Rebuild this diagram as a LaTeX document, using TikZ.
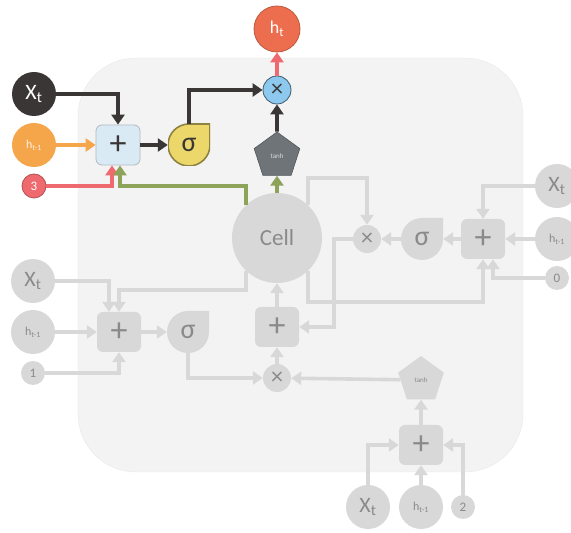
\documentclass[tikz,border=0pt]{standalone}
\usepackage{fontspec}
\setmainfont{Carlito}
\usepackage{xcolor}
\usepackage{tikz}
\usetikzlibrary{positioning,arrows.meta,shapes.geometric}
\definecolor{panel}{RGB}{243,243,243}
\definecolor{paneledge}{RGB}{232,232,232}
\definecolor{offgray}{RGB}{216,216,216}
\definecolor{offtext}{RGB}{138,138,138}
\definecolor{inkdark}{RGB}{58,54,53}
\definecolor{outred}{RGB}{236,110,78}
\definecolor{pinkred}{RGB}{238,106,110}
\definecolor{hprevorange}{RGB}{245,165,74}
\definecolor{mulblue}{RGB}{141,200,238}
\definecolor{addblue}{RGB}{218,234,244}
\definecolor{sigyellow}{RGB}{236,216,106}
\definecolor{tanhgray}{RGB}{110,116,120}
\definecolor{cellgreen}{RGB}{142,163,90}
\newcommand{\xtlabel}{\fontsize{22}{22}\selectfont X\textsubscript{t}}
\newcommand{\hlabel}{\fontsize{12}{12}\selectfont h\textsubscript{t-1}}

\begin{document}
\begin{tikzpicture}[x=1pt, y=1pt,
        inode/.style={circle, inner sep=0pt, minimum size=44pt, fill=offgray, text=offtext},
        knode/.style={circle, inner sep=0pt, minimum size=24pt, fill=offgray, text=offtext,
                      font=\fontsize{13}{13}\selectfont},
        addbox/.style={rectangle, rounded corners=6pt, minimum width=44pt, minimum height=40pt,
                       inner sep=0pt, fill=offgray, text=offtext, font=\fontsize{34}{34}\selectfont},
        mulnode/.style={circle, minimum size=28pt, inner sep=0pt, fill=offgray, text=offtext,
                        font=\fontsize{24}{24}\selectfont},
        sigbox/.style={minimum size=42pt, inner sep=0pt, text=offtext, font=\fontsize{28}{28}\selectfont,
                       path picture={\path[#1] (path picture bounding box.north east)
                           -- (path picture bounding box.east)
                           arc[start angle=0, end angle=-270, radius=21pt] -- cycle;}},
        sigbox/.default={fill=offgray},
        tanhnode/.style={regular polygon, regular polygon sides=5, minimum size=48pt, inner sep=0pt,
                         fill=offgray, text=offtext, font=\fontsize{7}{7}\selectfont},
        cellnode/.style={circle, minimum size=90pt, inner sep=0pt, fill=offgray, text=offtext,
                         font=\fontsize{23}{23}\selectfont},
        arr/.style={-{Triangle[width=13pt,length=10pt]}, line width=3.6pt},
        greyarrow/.style={arr, offgray}
    ]
    \useasboundingbox (0,0) rectangle (571,533);
    % cell panel
    \fill[panel, draw=paneledge, rounded corners=58pt] (78,61) rectangle (523,475);

    % output gate (highlighted)
    \node[circle, minimum size=46pt, inner sep=0pt, fill=outred, draw=outred!80!black, line width=0.8pt,
          text=white, font=\fontsize{18}{18}\selectfont] (ht) at (277,504) {h\textsubscript{t}};
    \node[mulnode, fill=mulblue, draw=mulblue!45!black, line width=0.8pt, text=inkdark] (mul) at (277,443) {×};
    \node[inode, fill=inkdark, text=white] (xt) at (34,439) {\xtlabel};
    \node[inode, fill=hprevorange, text=white!85!hprevorange] (hprev) at (34,388) {\hlabel};
    \node[knode, fill=pinkred, draw=pinkred!75!black, line width=0.8pt, text=white] (three) at (34,347) {3};
    \node[addbox, fill=addblue, draw=addblue!55!gray, line width=0.8pt, text=inkdark] (add) at (118,388) {+};
    \node[sigbox={fill=sigyellow, draw=sigyellow!60!black, line width=1.6pt}, text=inkdark] (sig) at (189,388) {σ};
    \node[tanhnode, fill=tanhgray, draw=tanhgray!75!black, line width=0.6pt, text=white!75!tanhgray] (tanh) at (277,377) {tanh};
    \node[cellnode] (cell) at (277,295) {Cell};

    % forget gate
    \node[inode] (xtR) at (557,347) {\xtlabel};
    \node[inode] (hprevR) at (557,294) {\hlabel};
    \node[knode] (zero) at (557,255) {0};
    \node[addbox] (addR) at (483,294) {+};
    \node[sigbox] (sigR) at (422,294) {σ};
    \node[mulnode] (mulR) at (367,294) {×};

    % input gate
    \node[inode] (xtL) at (33,252) {\xtlabel};
    \node[inode] (hprevL) at (33,201) {\hlabel};
    \node[knode] (one) at (33,160) {1};
    \node[addbox] (addL) at (119,201) {+};
    \node[sigbox] (sigL) at (188,201) {σ};
    \node[mulnode] (mulL) at (277,155) {×};
    \node[addbox] (addM) at (277,206) {+};

    % candidate
    \node[tanhnode] (tanhL) at (421,153) {tanh};
    \node[addbox] (addB) at (421,88) {+};
    \node[inode] (xtB) at (368,26) {\xtlabel};
    \node[inode] (hprevB) at (421,26) {\hlabel};
    \node[knode] (two) at (463,26) {2};

    % grey connections
    \draw[greyarrow] (cell.47) -- ++(0,27) -| (mulR);
    \draw[greyarrow] (mulR) -| ([xshift=35pt]addM.east) -- (addM);
    \draw[greyarrow] (cell.313) -- ++(0,-31) -| (addR);
    \draw[greyarrow] (zero) -| ([xshift=10pt]addR.south);
    \draw[greyarrow] (xtR) -| (addR);
    \draw[greyarrow] (hprevR) -- (addR);
    \draw[greyarrow] (addR) -- (sigR);
    \draw[greyarrow] (sigR) -- (mulR);

    \draw[greyarrow] (cell.227) -- ++(0,-19) -| (addL);
    \draw[greyarrow] (xtL) -| ([xshift=-10pt]addL.north);
    \draw[greyarrow] (hprevL) -- (addL);
    \draw[greyarrow] (one) -| (addL);
    \draw[greyarrow] (addL) -- (sigL);
    \draw[greyarrow] (sigL) |- (mulL);
    \draw[greyarrow] (mulL) -- (addM);
    \draw[greyarrow] (addM) -- (cell);

    \draw[greyarrow] (tanhL) -- (mulL);
    \draw[greyarrow] (addB) -- (tanhL);
    \draw[greyarrow] (xtB) |- (addB);
    \draw[greyarrow] (hprevB) -- (addB);
    \draw[greyarrow] (two) |- (addB);

    % highlighted connections
    \draw[arr, inkdark] (xt) -| (add);
    \draw[arr, hprevorange] (hprev) -- (add);
    \draw[arr, pinkred] (three) -| ([xshift=-6pt]add.south);
    \draw[arr, cellgreen] (cell.133) -- (cell.133 |- three) -| ([xshift=2pt]add.south);
    \draw[arr, inkdark] (add) -- (sig);
    \draw[arr, inkdark] (sig) |- (mul);
    \draw[arr, cellgreen] (cell) -- (tanh);
    \draw[arr, inkdark] (tanh) -- (mul);
    \draw[arr, pinkred] (mul) -- (ht);
\end{tikzpicture}
\end{document}
